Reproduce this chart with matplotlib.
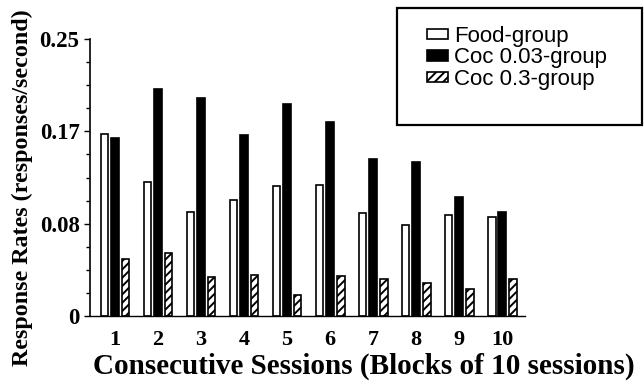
import matplotlib
matplotlib.use('Agg')
import matplotlib.pyplot as plt
import matplotlib.patches as mpatches
import numpy as np
from matplotlib.ticker import FixedLocator, MultipleLocator

# ---- data ----
blocks = ['1', '2', '3', '4', '5', '6', '7', '8', '9', '10']
food = [0.164, 0.121, 0.094, 0.105, 0.117, 0.118, 0.093, 0.082, 0.091, 0.089]
coc003 = [0.161, 0.205, 0.197, 0.163, 0.191, 0.175, 0.142, 0.139, 0.107, 0.094]
coc03 = [0.051, 0.057, 0.035, 0.037, 0.019, 0.036, 0.033, 0.030, 0.024, 0.033]
series_names = ['Food-group', 'Coc 0.03-group', 'Coc 0.3-group']
ytick_values = [0, 0.25 / 3, 0.5 / 3, 0.25]
ytick_labels = ['0', '0.08', '0.17', '0.25']
xlabel = 'Consecutive Sessions (Blocks of 10 sessions)'
ylabel = 'Response Rates (responses/second)'

plt.rcParams['hatch.linewidth'] = 1.4
plt.rcParams['hatch.color'] = 'black'

W, H = 644, 388
fig = plt.figure(figsize=(W / 100, H / 100), dpi=100)
ax = fig.add_axes([90 / W, 1 - 316 / H, 435 / W, 277 / H])

x = np.arange(len(blocks))
w = 0.18
off = 0.245
lw = 1.2
ax.bar(x - off, food, w, color='white', edgecolor='black', linewidth=lw, label=series_names[0])
ax.bar(x, coc003, w, color='black', edgecolor='black', linewidth=lw, label=series_names[1])
ax.bar(x + off, coc03, w, color='white', edgecolor='black', linewidth=lw, hatch='////',
       label=series_names[2])

ax.set_xlim(-0.58, 9.53)
ax.set_ylim(0, 0.25)

for s in ['top', 'right']:
    ax.spines[s].set_visible(False)
ax.spines['left'].set_linewidth(1.2)
ax.spines['bottom'].set_linewidth(1.0)

serif = dict(family='Liberation Serif', weight='bold')

ax.set_xticks(x)
ax.set_xticklabels(blocks, fontsize=16, **serif)
ax.tick_params(axis='x', length=0, pad=10)

ax.yaxis.set_major_locator(FixedLocator(ytick_values))
ax.set_yticklabels(ytick_labels, fontsize=16.5, **serif)
ax.yaxis.set_minor_locator(MultipleLocator(0.25 / 12))
ax.tick_params(axis='y', which='major', length=4.5, width=1.0, pad=3)
ax.tick_params(axis='y', which='minor', length=3, width=1.0)

ax.set_xlabel(xlabel, fontsize=21, **serif)
ax.xaxis.set_label_coords((364 - 90) / 435, (316 - 366) / 277)
ax.xaxis.label.set_va('center')
ax.set_ylabel(ylabel, fontsize=17.3, **serif)
ax.yaxis.set_label_coords((22 - 90) / 435, (316 - 188) / 277)
ax.yaxis.label.set_va('center')

# legend box (frame drawn separately so that the padding matches the reference)
frame = mpatches.Rectangle((397 / W, 1 - 125 / H), (642 - 397) / W, (125 - 8) / H,
                           transform=fig.transFigure, facecolor='white',
                           edgecolor='black', linewidth=1.6, zorder=5)
fig.patches.append(frame)
leg = ax.legend(loc='upper left', bbox_to_anchor=(427 / W, 1 - 26 / H),
                bbox_transform=fig.transFigure, prop=dict(family='Liberation Sans', size=16),
                frameon=False, borderpad=0, handlelength=0.95, handleheight=0.33,
                handletextpad=0.25, labelspacing=0.02, borderaxespad=0)
leg.set_zorder(6)
leg.set_figure(fig)
fig.legends.append(leg)
ax.legend_ = None

fig.savefig('out.png', dpi=100)
